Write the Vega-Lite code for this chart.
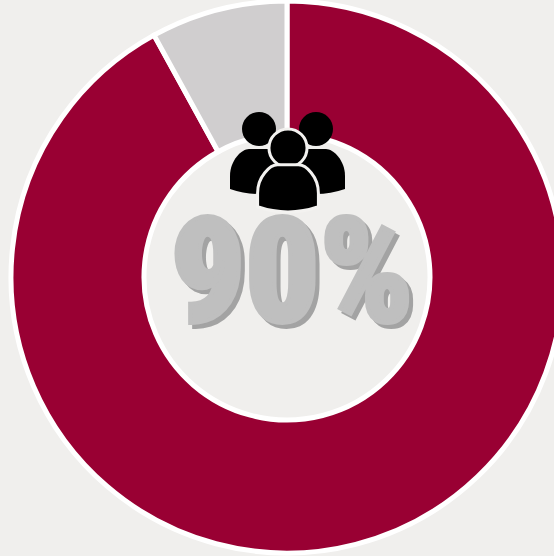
{
"$schema":"https://vega.github.io/schema/vega-lite/v6.json",
"width":534,"height":554,
"autosize":"none",
"padding":{"left":20,"top":0,"right":0,"bottom":2},
"background":"#f0efed",
"view":{"stroke":null},
"config":{"axis":{"disable":true},"legend":{"disable":true}},
"datasets":{"slices":[{"group":"Yes","share":92,"rank":1},{"group":"No","share":8,"rank":2}],"label":[{"text":"90%"}]},
"layer":[
{"data":{"name":"slices"},
 "mark":{"type":"arc","innerRadius":143,"outerRadius":276,"stroke":"#ffffff","strokeWidth":5},
 "encoding":{"theta":{"field":"share","type":"quantitative","stack":true},"order":{"field":"rank"},
  "color":{"field":"group","type":"nominal","scale":{"domain":["Yes","No"],"range":["#990033","#d0cecf"]},"legend":null}}},
{"data":{"name":"label"},"mark":{"type":"text","font":"Roboto Condensed, Roboto, Liberation Sans","fontWeight":900,"fontSize":146,"align":"center","baseline":"middle","fill":"#a3a3a3","opacity":1,"stroke":"#a3a3a3","strokeWidth":4},
 "encoding":{"text":{"field":"text"},"x":{"datum":296,"type":"quantitative","scale":{"domain":[20,554]},"axis":null},"y":{"datum":282,"type":"quantitative","scale":{"domain":[554,0]},"axis":null}}},
{"data":{"name":"label"},"mark":{"type":"text","font":"Roboto Condensed, Roboto, Liberation Sans","fontWeight":900,"fontSize":146,"align":"center","baseline":"middle","fill":"#bfbfbf","stroke":"#bfbfbf","strokeWidth":4},
 "encoding":{"text":{"field":"text"},"x":{"datum":292,"type":"quantitative","scale":{"domain":[20,554]},"axis":null},"y":{"datum":278,"type":"quantitative","scale":{"domain":[554,0]},"axis":null}}},
{"data":{"values":[{"part":"left head"}]},"mark":{"type":"point","shape":"circle","filled":true,"fill":"#000000","opacity":1,"size":1156},
 "encoding":{"x":{"datum":259,"type":"quantitative","scale":{"domain":[20,554]},"axis":null},"y":{"datum":129,"type":"quantitative","scale":{"domain":[554,0]},"axis":null}}},
{"data":{"values":[{"part":"right head"}]},"mark":{"type":"point","shape":"circle","filled":true,"fill":"#000000","opacity":1,"size":1156},
 "encoding":{"x":{"datum":316,"type":"quantitative","scale":{"domain":[20,554]},"axis":null},"y":{"datum":129,"type":"quantitative","scale":{"domain":[554,0]},"axis":null}}},
{"data":{"values":[{"part":"left body"}]},"mark":{"type":"point","shape":"M-.58,.32 L-.58,.06 C-.58,-.26 -.34,-.48 -.2,-.48 L.2,-.48 C.34,-.48 .58,-.26 .58,.06 L.58,.32 Q0,.52 -.58,.32 Z","filled":true,"fill":"#000000","opacity":1,"size":10000},
 "encoding":{"x":{"datum":259,"type":"quantitative","scale":{"domain":[20,554]},"axis":null},"y":{"datum":173,"type":"quantitative","scale":{"domain":[554,0]},"axis":null}}},
{"data":{"values":[{"part":"right body"}]},"mark":{"type":"point","shape":"M-.58,.32 L-.58,.06 C-.58,-.26 -.34,-.48 -.2,-.48 L.2,-.48 C.34,-.48 .58,-.26 .58,.06 L.58,.32 Q0,.52 -.58,.32 Z","filled":true,"fill":"#000000","opacity":1,"size":10000},
 "encoding":{"x":{"datum":316,"type":"quantitative","scale":{"domain":[20,554]},"axis":null},"y":{"datum":173,"type":"quantitative","scale":{"domain":[554,0]},"axis":null}}},
{"data":{"values":[{"part":"centre head"}]},"mark":{"type":"point","shape":"circle","filled":true,"fill":"#000000","opacity":1,"stroke":"#f3f2f0","strokeWidth":3,"strokeOpacity":1,"size":1450},
 "encoding":{"x":{"datum":288,"type":"quantitative","scale":{"domain":[20,554]},"axis":null},"y":{"datum":148,"type":"quantitative","scale":{"domain":[554,0]},"axis":null}}},
{"data":{"values":[{"part":"centre body"}]},"mark":{"type":"point","shape":"M-.58,.32 L-.58,.06 C-.58,-.26 -.34,-.48 -.2,-.48 L.2,-.48 C.34,-.48 .58,-.26 .58,.06 L.58,.32 Q0,.52 -.58,.32 Z","filled":true,"fill":"#000000","opacity":1,"stroke":"#f3f2f0","strokeWidth":3,"strokeOpacity":1,"size":11000},
 "encoding":{"x":{"datum":288,"type":"quantitative","scale":{"domain":[20,554]},"axis":null},"y":{"datum":190,"type":"quantitative","scale":{"domain":[554,0]},"axis":null}}}
]
}
